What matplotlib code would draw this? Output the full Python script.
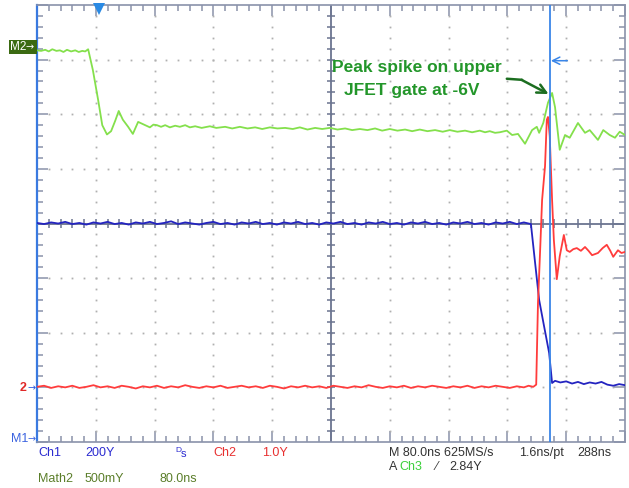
import numpy as np
import matplotlib
matplotlib.use("Agg")
import matplotlib.pyplot as plt
from matplotlib.patches import Rectangle

plt.rcParams['font.family'] = ['Liberation Sans', 'DejaVu Sans']

# ---- data (screen divisions: x 0..10 = 80 ns/div, y -4..4) ----
green_trace = [(0.00,3.17),(0.07,3.16),(0.14,3.18),(0.20,3.15),(0.26,3.19),(0.33,3.16),(0.39,3.17),
    (0.45,3.14),(0.51,3.18),(0.58,3.15),(0.65,3.17),(0.71,3.14),(0.77,3.16),(0.82,3.15),(0.87,3.19),
    (0.95,2.81),(1.04,2.26),(1.11,1.80),(1.19,1.63),(1.26,1.69),(1.33,1.88),(1.39,2.06),(1.46,1.90),
    (1.55,1.77),(1.63,1.64),(1.72,1.86),(1.80,1.82),(1.86,1.79),(1.92,1.76),(1.98,1.81),(2.04,1.80),
    (2.11,1.77),(2.18,1.80),(2.26,1.76),(2.35,1.79),(2.43,1.77),(2.52,1.80),(2.60,1.76),(2.69,1.78),
    (2.80,1.75),(2.94,1.78),(3.05,1.75),(3.20,1.77),(3.32,1.74),(3.45,1.77),(3.58,1.74),(3.71,1.76),
    (3.83,1.73),(3.96,1.76),(4.09,1.74),(4.22,1.75),(4.35,1.73),(4.47,1.76),(4.60,1.72),(4.73,1.75),
    (4.85,1.73),(4.98,1.75),(5.11,1.72),(5.24,1.74),(5.36,1.71),(5.49,1.73),(5.62,1.71),(5.75,1.74),
    (5.87,1.70),(6.00,1.73),(6.13,1.70),(6.26,1.72),(6.38,1.69),(6.51,1.72),(6.64,1.69),(6.77,1.71),
    (6.90,1.68),(7.02,1.71),(7.15,1.68),(7.28,1.70),(7.40,1.67),(7.53,1.70),(7.62,1.67),(7.70,1.69),
    (7.79,1.66),(7.87,1.67),(7.99,1.70),(8.08,1.62),(8.18,1.64),(8.30,1.46),(8.42,1.71),(8.50,1.77),
    (8.54,1.66),(8.61,1.84),(8.69,2.21),(8.76,2.39),(8.81,2.13),(8.89,1.35),(8.98,1.62),(9.06,1.57),
    (9.20,1.84),(9.32,1.66),(9.40,1.71),(9.54,1.53),(9.63,1.71),(9.74,1.62),(9.83,1.57),(9.91,1.68),
    (10.0,1.62)]

red_trace = [(0.00,-2.99),(0.12,-2.97),(0.24,-3.01),(0.36,-2.98),(0.48,-3.00),(0.60,-2.97),(0.72,-3.01),
    (0.84,-2.99),(0.96,-2.96),(1.08,-3.00),(1.20,-2.98),(1.32,-3.01),(1.44,-2.97),(1.56,-2.99),(1.68,-3.02),
    (1.80,-2.98),(1.92,-3.00),(2.04,-2.97),(2.16,-3.01),(2.28,-2.98),(2.40,-3.00),(2.52,-2.96),(2.64,-2.99),
    (2.76,-3.01),(2.88,-2.98),(3.00,-3.00),(3.12,-2.97),(3.24,-3.01),(3.36,-2.99),(3.48,-2.97),(3.60,-3.00),
    (3.72,-2.98),(3.84,-3.01),(3.96,-2.97),(4.08,-2.99),(4.20,-3.02),(4.32,-2.98),(4.44,-3.00),(4.56,-2.97),
    (4.68,-3.00),(4.80,-2.98),(4.92,-3.01),(5.04,-2.97),(5.16,-2.99),(5.28,-3.01),(5.40,-2.98),(5.52,-3.00),
    (5.64,-2.96),(5.76,-2.99),(5.88,-3.01),(6.00,-2.98),(6.12,-3.00),(6.24,-2.97),(6.36,-3.01),(6.48,-2.98),
    (6.60,-3.00),(6.72,-2.97),(6.84,-2.99),(6.96,-3.01),(7.08,-2.98),(7.20,-3.00),(7.32,-2.97),(7.44,-3.01),
    (7.56,-2.98),(7.68,-3.00),(7.80,-2.97),(7.92,-2.99),(8.04,-3.01),(8.16,-2.98),(8.28,-3.00),(8.36,-2.97),
    (8.44,-2.99),(8.49,-2.95),(8.52,-1.46),(8.56,-0.40),(8.59,0.43),(8.64,1.05),(8.67,1.90),(8.69,1.95),
    (8.72,1.60),(8.76,0.43),(8.79,-0.30),(8.84,-1.02),(8.89,-0.60),(8.96,-0.21),(9.01,-0.49),(9.06,-0.52),
    (9.12,-0.47),(9.18,-0.45),(9.25,-0.50),(9.32,-0.43),(9.38,-0.50),(9.44,-0.58),(9.54,-0.54),(9.62,-0.45),
    (9.69,-0.39),(9.75,-0.50),(9.80,-0.61),(9.88,-0.49),(9.94,-0.54),(10.0,-0.52)]

blue_trace = [(0.00,0.01),(0.12,-0.01),(0.24,0.02),(0.36,0.00),(0.48,0.03),(0.60,-0.01),(0.72,0.01),
    (0.84,-0.02),(0.96,0.02),(1.08,0.00),(1.20,0.03),(1.32,-0.01),(1.44,0.01),(1.56,-0.02),(1.68,0.02),
    (1.80,0.00),(1.92,0.03),(2.04,-0.01),(2.16,0.01),(2.28,0.04),(2.40,-0.01),(2.52,0.02),(2.64,0.00),
    (2.76,-0.02),(2.88,0.01),(3.00,0.03),(3.12,-0.01),(3.24,0.01),(3.36,-0.02),(3.48,0.02),(3.60,0.00),
    (3.72,0.03),(3.84,-0.01),(3.96,0.01),(4.08,-0.02),(4.20,0.02),(4.32,0.00),(4.44,0.03),(4.56,-0.01),
    (4.68,0.01),(4.80,-0.02),(4.92,0.02),(5.04,0.00),(5.16,0.03),(5.28,-0.01),(5.40,0.01),(5.52,-0.02),
    (5.64,0.02),(5.76,0.00),(5.88,0.03),(6.00,-0.01),(6.12,0.01),(6.24,-0.02),(6.36,0.02),(6.48,0.00),
    (6.60,0.03),(6.72,-0.01),(6.84,0.01),(6.96,-0.02),(7.08,0.02),(7.20,0.00),(7.32,0.03),(7.44,-0.01),
    (7.56,0.01),(7.68,-0.02),(7.80,0.02),(7.92,0.00),(8.04,0.03),(8.16,-0.01),(8.28,0.02),(8.40,-0.01),
    (8.47,-0.71),(8.54,-1.40),(8.62,-1.86),(8.71,-2.37),(8.76,-2.92),(8.81,-2.88),(8.90,-2.91),(9.00,-2.89),
    (9.10,-2.93),(9.20,-2.90),(9.30,-2.94),(9.40,-2.91),(9.50,-2.93),(9.60,-2.90),(9.70,-2.95),(9.80,-2.97),
    (9.90,-2.94),(10.0,-2.96)]

cursor_x = 8.72
trigger_x = 1.06
level_y = 2.98

row1_labels = [("Ch1", 38, "#2b2bd0"), ("200Y", 85, "#2b2bd0"), ("Ch2", 213, "#e83030"),
               ("1.0Y", 262, "#e83030"), ("M 80.0ns 625MS/s", 389, "#333333"),
               ("1.6ns/pt", 519, "#333333"), ("288ns", 577, "#333333")]
row2_left = [("Math2", 38), ("500mY", 85), ("80.0ns", 160)]

# ---- figure ----
W, H = 629, 488
fig = plt.figure(figsize=(W/100, H/100), dpi=100)
fig.patch.set_facecolor("white")
ax = fig.add_axes([37/W, 46/H, 588/W, 437/H])
ax.set_xlim(0, 10)
ax.set_ylim(-4, 4)

grid_c = "#8a92aa"
for s in ["top", "right", "bottom"]:
    ax.spines[s].set_color(grid_c)
    ax.spines[s].set_linewidth(1.2)
ax.spines["left"].set_color("#3a7ae0")
ax.spines["left"].set_linewidth(1.6)

ax.set_xticks(np.arange(0, 11, 1))
ax.set_yticks(np.arange(-4, 5, 1))
ax.set_xticks(np.arange(0, 10.01, 0.2), minor=True)
ax.set_yticks(np.arange(-4, 4.01, 0.2), minor=True)
ax.tick_params(which="both", direction="in", top=True, right=True, bottom=True, left=True,
               labelbottom=False, labelleft=False, color=grid_c, width=1.1)
ax.tick_params(which="major", length=8)
ax.tick_params(which="minor", length=4.5)
for t in ax.yaxis.get_major_ticks() + ax.yaxis.get_minor_ticks():
    t.tick1line.set_color("#3a7ae0")

# dotted graticule
dot_c = "#b0b0b0"
ys = np.arange(-3.8, 3.81, 0.2)
xs = np.arange(0.2, 9.81, 0.2)
for gx in [1, 2, 3, 4, 6, 7, 8, 9]:
    ax.plot(np.full_like(ys, gx), ys, ls="none", marker="s", ms=1.3, color=dot_c, mew=0)
for gy in [-3, -2, -1, 1, 2, 3]:
    ax.plot(xs, np.full_like(xs, gy), ls="none", marker="s", ms=1.3, color=dot_c, mew=0)

# center cross with ticks
cc = "#6b7490"
ax.axhline(0, color=cc, lw=1.3, zorder=2)
ax.axvline(5, color=cc, lw=1.3, zorder=2)
ax.vlines(np.arange(0.2, 10, 0.2), -0.075, 0.075, color=cc, lw=1.1, zorder=2)
ax.hlines(np.arange(-3.8, 4, 0.2), 5 - 0.07, 5 + 0.07, color=cc, lw=1.1, zorder=2)

# traces
gx_, gy_ = zip(*green_trace)
rx_, ry_ = zip(*red_trace)
bx_, by_ = zip(*blue_trace)
ax.plot(gx_, gy_, color="#84e04c", lw=1.3, zorder=4)
ax.plot(bx_, by_, color="#2424c0", lw=1.3, zorder=4)
ax.plot(rx_, ry_, color="#ff3c3c", lw=1.3, zorder=5)

# cursor
ax.axvline(cursor_x, color="#3a86e8", lw=1.3, zorder=6)
ax.annotate("", xy=(cursor_x + 0.02, level_y), xytext=(cursor_x + 0.30, level_y),
            arrowprops=dict(arrowstyle="->", color="#3a86e8", lw=1.1, mutation_scale=13,
                            shrinkA=0, shrinkB=0), zorder=6)
ax.plot([trigger_x], [3.93], marker="v", ms=8, color="#2a8ae4", mew=0, clip_on=False, zorder=7)

# annotation
ann_c = "#23962a"
ax.text(6.46, 2.85, "Peak spike on upper", color=ann_c, fontsize=12.5, fontweight="bold",
        ha="center", va="center", zorder=8)
ax.text(6.38, 2.44, "JFET gate at -6V", color=ann_c, fontsize=12.5, fontweight="bold",
        ha="center", va="center", zorder=8)
ax.plot([7.99, 8.25], [2.65, 2.63], color="#1c6e20", lw=1.8, zorder=8, solid_capstyle="round")
ax.annotate("", xy=(8.70, 2.37), xytext=(8.24, 2.63),
            arrowprops=dict(arrowstyle="->", color="#1c6e20", lw=1.8, mutation_scale=16,
                            shrinkA=0, shrinkB=0), zorder=8)

# left-side markers
def fx(px): return px / W
def fy(py): return 1 - py / H

fig.patches.append(Rectangle((fx(9), fy(54)), 28/W, 14/H, transform=fig.transFigure,
                             facecolor="#3b6a12", edgecolor="none"))
fig.text(fx(10), fy(47), "M2", color="white", fontsize=8.5, va="center", ha="left")
fig.text(fx(26), fy(47), "→", color="white", fontsize=7, va="center", ha="left", family="DejaVu Sans")
fig.text(fx(20), fy(388), "2", color="#e02828", fontsize=9, va="center", ha="left", fontweight="bold")
fig.text(fx(27), fy(388), "→", color="#2a5ae0", fontsize=7, va="center", ha="left", family="DejaVu Sans")
fig.text(fx(11), fy(439), "M1", color="#3c64e0", fontsize=9, va="center", ha="left")
fig.text(fx(27), fy(439), "→", color="#3c64e0", fontsize=7, va="center", ha="left", family="DejaVu Sans")

# bottom status text
for txt, px, col in row1_labels:
    fig.text(fx(px), fy(453), txt, color=col, fontsize=9, va="center", ha="left")
fig.text(fx(175), fy(451), "D", color="#2b2bd0", fontsize=6, va="center", ha="left")
fig.text(fx(181), fy(454), "s", color="#2b2bd0", fontsize=8, va="center", ha="left")
for txt, px in row2_left:
    fig.text(fx(px), fy(479), txt, color="#5b7e2a", fontsize=9, va="center", ha="left")
fig.text(fx(389), fy(467), "A", color="#333333", fontsize=9, va="center", ha="left")
fig.text(fx(399), fy(467), "Ch3", color="#3cd03c", fontsize=9, va="center", ha="left")
fig.text(fx(436), fy(467), "⁄", color="#333333", fontsize=9, va="center", ha="left")
fig.text(fx(449), fy(467), "2.84Y", color="#333333", fontsize=9, va="center", ha="left")

fig.savefig("out.png", dpi=100, facecolor="white")
